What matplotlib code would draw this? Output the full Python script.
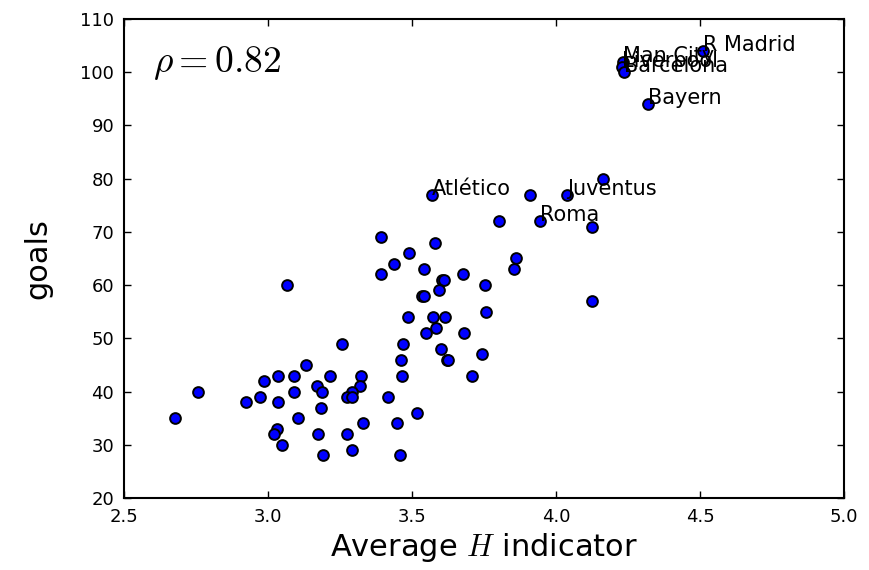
import matplotlib
matplotlib.use("Agg")
import matplotlib.pyplot as plt

plt.rcParams['mathtext.fontset'] = 'cm'

h_avg = [3.065, 3.258, 3.133, 2.986, 3.036, 3.091, 3.214, 3.323, 3.169, 3.188,
         3.321, 3.293, 3.274, 3.290, 2.756, 2.677, 2.925, 2.972, 3.034, 3.090,
         3.185, 3.104, 3.330, 3.030, 3.022, 3.050, 3.175, 3.274, 3.190, 3.293,
         3.568, 3.910, 4.039, 4.163, 3.802, 3.945, 4.125, 3.392, 3.581, 3.488,
         3.439, 3.860, 3.853, 3.543, 3.391, 3.676, 3.603, 3.612, 3.594, 3.753,
         3.535, 3.540, 4.125, 3.757, 3.486, 3.573, 3.613, 3.584, 3.547, 3.682,
         3.469, 3.600, 3.463, 3.620, 3.626, 3.742, 3.467, 3.708, 3.417, 3.516,
         3.449, 3.458, 4.512, 4.234, 4.228, 4.237, 4.319]
goals = [60, 49, 45, 42, 43, 43, 43, 43, 41, 40,
         41, 40, 39, 39, 40, 35, 38, 39, 38, 40,
         37, 35, 34, 33, 32, 30, 32, 32, 28, 29,
         77, 77, 77, 80, 72, 72, 71, 69, 68, 66,
         64, 65, 63, 63, 62, 62, 61, 61, 59, 60,
         58, 58, 57, 55, 54, 54, 54, 52, 51, 51,
         49, 48, 46, 46, 46, 47, 43, 43, 39, 36,
         34, 28, 104, 102, 101, 100, 94]

teams = ["Atlético", "Juventus", "Roma", "R Madrid", "Man City",
         "Liverpool", "Barcelona", "Bayern"]
team_h = [3.568, 4.039, 3.945, 4.512, 4.234, 4.228, 4.237, 4.319]
team_goals = [77, 77, 72, 104, 102, 101, 100, 94]

rho = 0.82

fig = plt.figure(figsize=(8.69, 5.70), dpi=100)
ax = fig.add_axes([0.1427, 0.1263, 0.8285, 0.8404])

ax.scatter(h_avg, goals, s=60, c='b', edgecolors='k', linewidths=1.4, zorder=3)

# labels overlap in the original too (Man City / Liverpool / Barcelona)
for name, x, y in zip(teams, team_h, team_goals):
    ax.text(x, y, name, fontsize=15, zorder=4)

ax.text(2.6, 100, r"$\rho = %.2f$" % rho, fontsize=27)

ax.set_xlim(2.5, 5.0)
ax.set_ylim(20, 110)
ax.set_xticks([2.5, 3.0, 3.5, 4.0, 4.5, 5.0])
ax.set_yticks(range(20, 111, 10))
ax.tick_params(direction='in', top=True, right=True, labelsize=13,
               length=5, width=1, pad=7)
for s in ax.spines.values():
    s.set_linewidth(1.5)

ax.set_xlabel(r"Average $H$ indicator", fontsize=22)
ax.set_ylabel("goals", fontsize=22, labelpad=20)

fig.savefig("out.png", dpi=100)
